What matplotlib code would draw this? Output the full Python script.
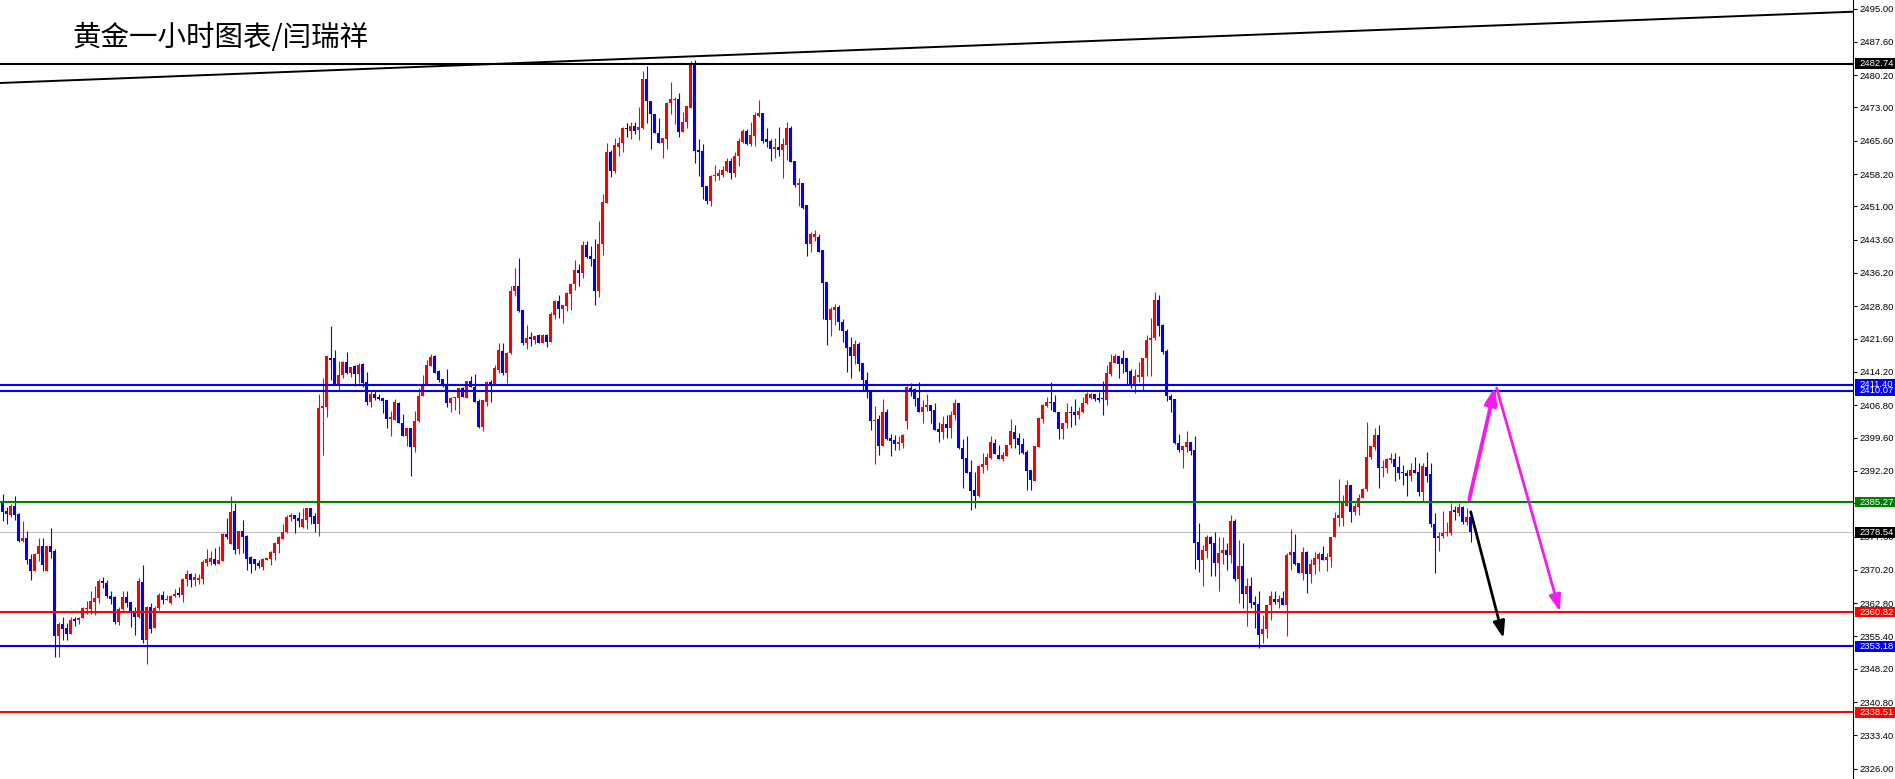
import matplotlib
matplotlib.use('Agg')
import matplotlib.pyplot as plt
import matplotlib.transforms as mtransforms
from matplotlib.patches import Rectangle
import numpy as np

plt.rcParams['font.family'] = ['Liberation Sans', 'DejaVu Sans']

# ---------------- data (hourly gold candles) ----------------
opens = [
    2385.4, 2383.3, 2382.4, 2384.4, 2382.6, 2376.6, 2377.2, 2372.6, 2370.0, 2373.7,
    2375.4, 2370.0, 2375.5, 2374.4, 2355.4, 2358.2, 2357.3, 2356.0, 2359.1, 2359.0,
    2359.6, 2361.6, 2361.5, 2363.1, 2363.9, 2367.8, 2367.3, 2364.4, 2364.2, 2358.7,
    2361.5, 2364.1, 2363.1, 2360.7, 2359.8, 2367.6, 2354.6, 2362.0, 2357.2, 2361.7,
    2364.5, 2363.4, 2362.9, 2364.3, 2365.0, 2364.5, 2368.2, 2369.3, 2367.9, 2367.9,
    2368.2, 2371.8, 2372.0, 2372.6, 2371.6, 2372.2, 2378.2, 2376.0, 2383.3, 2374.8,
    2378.8, 2377.8, 2373.1, 2372.6, 2371.8, 2370.9, 2372.4, 2372.6, 2374.0, 2375.9,
    2377.1, 2378.7, 2381.9, 2382.5, 2381.8, 2379.8, 2381.3, 2384.0, 2382.2, 2380.5,
    2406.1, 2406.5, 2417.4, 2417.2, 2411.3, 2413.5, 2416.3, 2413.9, 2415.5, 2413.7,
    2415.9, 2411.9, 2407.6, 2409.4, 2408.7, 2408.5, 2407.9, 2403.8, 2403.5, 2407.2,
    2402.8, 2400.0, 2401.8, 2397.6, 2403.3, 2408.8, 2411.4, 2415.5, 2417.7, 2414.3,
    2412.6, 2411.1, 2407.4, 2408.4, 2408.4, 2410.7, 2408.5, 2412.2, 2410.8, 2407.7,
    2402.0, 2407.6, 2412.0, 2411.3, 2414.6, 2418.9, 2414.0, 2418.5, 2432.1, 2433.2,
    2428.0, 2420.7, 2421.8, 2421.4, 2422.4, 2420.7, 2422.4, 2420.9, 2426.9, 2430.0,
    2428.3, 2428.9, 2431.5, 2433.7, 2436.9, 2436.3, 2442.4, 2440.0, 2439.2, 2432.3,
    2442.6, 2451.7, 2463.0, 2458.9, 2464.3, 2465.2, 2468.4, 2467.8, 2468.9, 2468.0,
    2468.4, 2479.3, 2474.4, 2471.5, 2467.4, 2465.2, 2466.0, 2473.9, 2474.7, 2474.8,
    2467.6, 2469.8, 2472.8, 2482.7, 2463.5, 2463.3, 2455.6, 2452.2, 2457.7, 2457.8,
    2458.0, 2458.9, 2461.2, 2458.5, 2462.2, 2465.4, 2467.8, 2464.9, 2466.7, 2471.1,
    2471.8, 2465.9, 2465.5, 2463.8, 2464.3, 2463.5, 2464.7, 2468.4, 2461.2, 2455.8,
    2456.3, 2451.3, 2442.6, 2444.3, 2444.1, 2441.3, 2434.1, 2425.7, 2427.9, 2428.6,
    2425.4, 2423.3, 2419.7, 2417.8, 2420.4, 2416.1, 2412.4, 2410.0, 2403.3, 2403.7,
    2397.7, 2405.4, 2399.6, 2399.1, 2398.2, 2398.5, 2403.4, 2410.6, 2410.3, 2408.5,
    2405.4, 2406.3, 2406.8, 2405.7, 2401.5, 2400.9, 2402.6, 2401.7, 2404.6, 2407.3,
    2397.4, 2395.1, 2392.0, 2387.9, 2386.6, 2393.0, 2393.5, 2395.1, 2398.5, 2395.7,
    2394.8, 2395.4, 2397.9, 2400.8, 2399.6, 2398.2, 2396.5, 2392.4, 2390.0, 2397.6,
    2403.7, 2406.6, 2407.5, 2407.5, 2405.4, 2401.6, 2402.8, 2405.3, 2405.4, 2404.6,
    2405.4, 2407.2, 2408.5, 2409.3, 2408.5, 2408.3, 2407.9, 2413.7, 2416.2, 2417.7,
    2417.2, 2417.2, 2414.4, 2411.3, 2413.1, 2413.0, 2417.2, 2421.2, 2421.7, 2430.2,
    2424.6, 2418.9, 2408.8, 2408.2, 2398.5, 2396.9, 2397.6, 2398.6, 2396.8, 2376.3,
    2372.4, 2374.5, 2377.6, 2376.2, 2371.8, 2373.9, 2374.6, 2373.4, 2381.1, 2368.1,
    2371.1, 2364.8, 2366.6, 2363.1, 2362.6, 2355.9, 2357.0, 2362.4, 2363.7, 2363.0,
    2363.9, 2362.4, 2373.4, 2374.1, 2371.8, 2369.6, 2374.1, 2369.3, 2371.3, 2372.6,
    2373.7, 2372.5, 2373.0, 2377.4, 2381.8, 2381.7, 2384.4, 2389.1, 2383.1, 2384.2,
    2386.1, 2388.1, 2395.2, 2397.6, 2400.2, 2392.8, 2392.9, 2394.8, 2394.8, 2393.1,
    2391.8, 2391.8, 2391.1, 2392.4, 2392.0, 2387.6, 2393.1, 2391.5, 2380.5, 2377.2,
    2377.7, 2378.3, 2378.5, 2383.6, 2382.8, 2384.1, 2380.9, 2381.9,
]
highs = [
    2387.1, 2384.1, 2384.8, 2386.6, 2382.8, 2381.1, 2378.8, 2373.7, 2373.9, 2377.2,
    2377.2, 2375.5, 2379.6, 2374.8, 2358.7, 2359.8, 2358.3, 2359.8, 2359.8, 2359.8,
    2362.0, 2363.3, 2365.4, 2366.6, 2368.1, 2368.7, 2367.9, 2365.4, 2364.3, 2362.0,
    2365.4, 2365.4, 2363.1, 2362.0, 2368.3, 2371.3, 2362.2, 2362.8, 2362.2, 2365.0,
    2365.5, 2364.6, 2364.6, 2366.0, 2366.3, 2368.3, 2370.2, 2369.6, 2369.4, 2369.3,
    2372.4, 2374.8, 2374.4, 2375.1, 2375.4, 2378.3, 2381.7, 2386.6, 2385.1, 2378.9,
    2381.3, 2377.9, 2373.2, 2372.6, 2372.4, 2372.9, 2372.9, 2374.5, 2376.5, 2377.7,
    2380.5, 2382.5, 2382.9, 2382.5, 2383.0, 2384.0, 2384.0, 2384.0, 2382.9, 2409.4,
    2412.8, 2417.7, 2424.4, 2419.1, 2416.6, 2416.6, 2418.6, 2415.4, 2415.7, 2416.1,
    2416.1, 2414.1, 2410.2, 2410.2, 2409.4, 2408.5, 2407.9, 2405.5, 2408.2, 2407.6,
    2404.9, 2401.8, 2401.8, 2405.5, 2410.6, 2413.5, 2416.8, 2418.2, 2418.0, 2414.6,
    2412.6, 2414.8, 2408.7, 2408.7, 2410.7, 2410.8, 2412.2, 2413.4, 2413.7, 2408.1,
    2407.9, 2412.2, 2412.3, 2415.7, 2420.6, 2420.6, 2418.7, 2433.3, 2437.4, 2439.6,
    2428.0, 2424.6, 2423.0, 2422.3, 2422.6, 2422.6, 2422.6, 2427.6, 2430.3, 2431.3,
    2429.1, 2431.9, 2433.8, 2439.1, 2438.3, 2443.3, 2443.2, 2442.2, 2443.8, 2447.8,
    2453.8, 2465.2, 2463.5, 2466.1, 2466.4, 2468.6, 2469.5, 2469.8, 2469.8, 2473.2,
    2481.0, 2482.2, 2474.4, 2471.5, 2470.6, 2466.3, 2474.3, 2478.7, 2475.4, 2476.3,
    2472.1, 2473.3, 2483.4, 2483.6, 2466.0, 2464.9, 2455.6, 2458.0, 2460.2, 2459.3,
    2460.0, 2461.8, 2461.7, 2463.2, 2466.1, 2468.1, 2468.1, 2469.8, 2472.1, 2474.7,
    2471.8, 2468.4, 2465.9, 2466.3, 2468.6, 2466.1, 2469.8, 2468.9, 2461.2, 2457.4,
    2456.3, 2451.3, 2445.2, 2445.8, 2444.9, 2441.3, 2434.1, 2428.7, 2429.3, 2429.1,
    2426.0, 2423.7, 2422.0, 2421.4, 2420.9, 2416.1, 2414.1, 2410.0, 2406.6, 2404.6,
    2408.2, 2405.9, 2400.5, 2400.2, 2400.0, 2400.4, 2411.1, 2411.7, 2410.6, 2412.0,
    2408.0, 2409.3, 2406.8, 2407.2, 2403.1, 2404.4, 2404.6, 2405.6, 2408.2, 2407.4,
    2399.4, 2399.9, 2394.6, 2391.9, 2393.5, 2396.2, 2396.2, 2399.9, 2399.4, 2398.0,
    2396.5, 2397.9, 2403.7, 2402.4, 2400.6, 2399.6, 2396.8, 2392.4, 2397.7, 2404.0,
    2407.0, 2408.7, 2412.0, 2409.1, 2405.4, 2402.9, 2407.4, 2406.6, 2408.1, 2406.5,
    2408.7, 2409.8, 2409.6, 2409.3, 2409.7, 2412.2, 2415.7, 2418.2, 2418.2, 2417.7,
    2419.1, 2417.4, 2414.8, 2414.8, 2416.3, 2417.4, 2422.4, 2426.3, 2431.9, 2431.3,
    2424.9, 2419.3, 2409.3, 2408.2, 2400.4, 2397.8, 2401.1, 2398.6, 2400.0, 2380.7,
    2375.7, 2377.9, 2377.8, 2378.7, 2377.6, 2377.6, 2376.1, 2382.4, 2381.5, 2376.8,
    2376.1, 2368.3, 2368.5, 2364.4, 2365.4, 2360.2, 2362.4, 2365.4, 2365.4, 2364.6,
    2365.4, 2373.9, 2379.3, 2378.2, 2371.8, 2375.2, 2374.5, 2372.6, 2374.1, 2374.2,
    2375.4, 2374.0, 2377.6, 2383.1, 2390.4, 2386.8, 2390.2, 2389.1, 2385.1, 2387.1,
    2388.5, 2403.1, 2397.7, 2401.8, 2402.4, 2394.6, 2395.1, 2396.1, 2396.1, 2395.5,
    2393.5, 2392.5, 2393.9, 2395.2, 2393.9, 2394.0, 2396.5, 2394.0, 2382.8, 2378.7,
    2383.3, 2380.9, 2385.1, 2384.4, 2385.0, 2384.3, 2383.9, 2382.4,
]
lows = [
    2381.1, 2380.5, 2381.9, 2381.3, 2376.4, 2376.5, 2371.6, 2368.0, 2370.0, 2372.2,
    2370.0, 2370.0, 2372.9, 2350.9, 2350.9, 2354.6, 2354.6, 2356.0, 2357.8, 2358.2,
    2359.6, 2360.4, 2360.4, 2360.2, 2362.9, 2366.1, 2363.9, 2362.6, 2358.1, 2357.9,
    2361.3, 2362.0, 2357.4, 2355.7, 2359.4, 2354.0, 2349.2, 2356.1, 2357.2, 2361.3,
    2362.6, 2363.4, 2362.7, 2364.2, 2364.2, 2363.1, 2366.6, 2366.3, 2366.6, 2367.0,
    2367.1, 2371.1, 2371.3, 2371.3, 2371.5, 2372.2, 2377.0, 2376.0, 2373.7, 2373.7,
    2374.0, 2370.2, 2369.6, 2370.2, 2370.5, 2370.2, 2372.4, 2371.3, 2372.4, 2374.0,
    2377.1, 2378.3, 2381.1, 2378.3, 2379.8, 2379.4, 2379.2, 2380.4, 2378.7, 2377.8,
    2395.7, 2404.1, 2412.3, 2411.3, 2410.2, 2412.8, 2413.7, 2413.0, 2411.1, 2411.8,
    2410.8, 2406.9, 2406.5, 2407.9, 2407.9, 2405.1, 2401.7, 2399.9, 2403.5, 2402.8,
    2400.0, 2397.8, 2391.1, 2396.5, 2403.1, 2408.8, 2411.4, 2415.5, 2414.0, 2412.0,
    2410.8, 2406.3, 2405.4, 2405.7, 2404.8, 2408.7, 2408.5, 2410.8, 2407.6, 2401.7,
    2401.1, 2406.7, 2407.6, 2411.3, 2414.0, 2413.5, 2411.7, 2418.2, 2431.1, 2427.6,
    2420.2, 2419.4, 2420.0, 2420.4, 2420.7, 2420.6, 2419.8, 2420.9, 2425.9, 2426.3,
    2425.0, 2427.8, 2428.0, 2432.4, 2433.4, 2435.0, 2439.5, 2437.8, 2429.1, 2430.8,
    2440.2, 2451.7, 2457.6, 2458.5, 2462.3, 2463.0, 2466.5, 2466.0, 2467.1, 2465.8,
    2468.1, 2469.5, 2463.8, 2467.4, 2465.2, 2461.7, 2463.8, 2471.5, 2469.3, 2466.5,
    2467.6, 2468.4, 2472.8, 2460.7, 2457.8, 2452.6, 2451.5, 2451.2, 2456.7, 2456.9,
    2457.6, 2458.7, 2457.2, 2457.5, 2460.0, 2465.0, 2464.7, 2464.4, 2464.4, 2470.8,
    2465.2, 2464.3, 2461.2, 2461.7, 2462.2, 2457.4, 2461.3, 2460.9, 2455.4, 2451.2,
    2450.4, 2440.0, 2440.9, 2443.4, 2440.9, 2426.0, 2420.2, 2422.2, 2424.6, 2423.5,
    2420.9, 2414.1, 2412.8, 2416.0, 2414.5, 2410.2, 2408.3, 2401.4, 2393.7, 2395.7,
    2397.7, 2399.1, 2395.4, 2396.8, 2396.8, 2397.4, 2401.5, 2408.9, 2406.7, 2405.2,
    2402.9, 2405.6, 2402.9, 2401.4, 2398.7, 2399.4, 2399.6, 2399.6, 2403.5, 2397.0,
    2388.5, 2391.8, 2383.6, 2384.0, 2386.3, 2391.7, 2392.3, 2394.8, 2395.9, 2394.8,
    2394.4, 2395.4, 2397.4, 2397.4, 2396.0, 2395.9, 2387.9, 2387.9, 2390.0, 2397.6,
    2402.9, 2406.5, 2405.7, 2405.2, 2399.3, 2399.4, 2401.7, 2402.0, 2402.4, 2403.7,
    2405.0, 2407.1, 2408.1, 2407.7, 2407.6, 2404.6, 2406.9, 2413.3, 2416.1, 2412.8,
    2413.9, 2411.5, 2410.6, 2409.6, 2412.0, 2410.2, 2413.3, 2413.3, 2421.4, 2422.2,
    2418.2, 2407.8, 2405.4, 2398.2, 2396.5, 2392.9, 2396.5, 2395.7, 2370.4, 2369.8,
    2366.5, 2372.9, 2368.9, 2368.9, 2365.5, 2371.5, 2370.2, 2371.7, 2367.8, 2362.8,
    2361.7, 2357.7, 2361.8, 2357.2, 2352.9, 2354.0, 2355.0, 2359.1, 2362.6, 2361.8,
    2362.4, 2355.6, 2370.2, 2371.3, 2369.6, 2367.9, 2365.0, 2367.2, 2369.2, 2369.9,
    2372.4, 2370.0, 2370.8, 2377.4, 2380.0, 2380.0, 2384.4, 2380.9, 2382.4, 2382.4,
    2386.1, 2387.8, 2394.8, 2396.8, 2388.5, 2390.8, 2391.8, 2393.9, 2390.0, 2390.4,
    2389.1, 2386.7, 2389.9, 2391.8, 2386.7, 2385.6, 2389.7, 2379.8, 2369.4, 2374.5,
    2377.2, 2377.7, 2378.0, 2381.3, 2382.2, 2380.5, 2380.2, 2376.3,
]
closes = [
    2383.1, 2382.7, 2384.4, 2382.5, 2376.6, 2377.2, 2372.4, 2370.0, 2373.7, 2375.4,
    2371.3, 2375.5, 2374.2, 2355.4, 2358.2, 2357.1, 2356.0, 2359.1, 2359.0, 2359.6,
    2361.8, 2361.8, 2363.3, 2363.9, 2367.8, 2367.2, 2364.4, 2363.7, 2358.7, 2361.5,
    2364.2, 2362.9, 2360.5, 2359.8, 2367.8, 2354.6, 2362.0, 2357.1, 2361.8, 2364.6,
    2363.4, 2363.7, 2364.4, 2364.9, 2364.5, 2368.2, 2369.3, 2367.9, 2368.5, 2368.4,
    2372.0, 2372.6, 2372.9, 2371.5, 2372.4, 2378.2, 2377.6, 2383.1, 2374.6, 2378.8,
    2377.6, 2372.6, 2371.6, 2371.5, 2371.1, 2372.6, 2372.9, 2374.2, 2376.1, 2377.4,
    2378.7, 2382.0, 2382.5, 2381.4, 2381.1, 2381.4, 2384.0, 2382.0, 2380.5, 2406.1,
    2406.6, 2417.7, 2416.9, 2411.3, 2413.5, 2416.5, 2413.9, 2415.2, 2413.7, 2415.7,
    2411.8, 2407.6, 2409.4, 2408.3, 2408.2, 2407.8, 2403.8, 2404.1, 2407.6, 2402.8,
    2400.0, 2401.8, 2397.6, 2403.3, 2408.9, 2411.4, 2415.7, 2417.6, 2414.0, 2412.4,
    2411.1, 2407.4, 2408.5, 2408.6, 2410.7, 2408.7, 2412.2, 2410.8, 2407.6, 2402.0,
    2407.9, 2411.9, 2411.3, 2415.0, 2419.1, 2414.0, 2418.5, 2432.3, 2433.2, 2427.7,
    2420.7, 2421.8, 2421.7, 2422.2, 2420.7, 2422.4, 2420.9, 2427.1, 2430.0, 2428.3,
    2429.1, 2431.7, 2433.7, 2436.9, 2436.3, 2442.4, 2439.8, 2439.2, 2432.3, 2442.6,
    2451.9, 2463.0, 2458.9, 2464.7, 2465.2, 2468.4, 2468.4, 2468.9, 2467.8, 2468.6,
    2479.3, 2474.4, 2471.5, 2467.4, 2465.2, 2466.3, 2473.9, 2474.8, 2474.8, 2467.6,
    2469.8, 2473.3, 2482.7, 2463.3, 2463.2, 2455.4, 2452.2, 2457.8, 2458.0, 2458.5,
    2459.2, 2461.2, 2458.5, 2462.2, 2465.6, 2467.8, 2464.9, 2466.9, 2471.3, 2471.8,
    2465.5, 2465.4, 2463.8, 2464.3, 2463.5, 2464.9, 2468.4, 2460.9, 2455.8, 2456.1,
    2450.6, 2442.6, 2444.9, 2444.8, 2440.9, 2434.0, 2425.7, 2428.2, 2428.6, 2425.2,
    2423.2, 2419.6, 2417.8, 2420.4, 2415.9, 2412.3, 2410.0, 2403.4, 2403.6, 2397.7,
    2405.4, 2399.3, 2398.8, 2398.2, 2398.7, 2400.2, 2410.8, 2410.0, 2408.2, 2405.2,
    2406.5, 2406.8, 2405.5, 2401.4, 2400.9, 2402.6, 2401.7, 2404.6, 2407.3, 2397.2,
    2394.8, 2391.8, 2387.8, 2386.6, 2393.3, 2393.7, 2395.2, 2398.7, 2395.9, 2394.8,
    2395.7, 2397.9, 2401.1, 2399.4, 2398.0, 2396.2, 2392.2, 2390.2, 2397.7, 2403.9,
    2406.8, 2407.6, 2407.3, 2405.2, 2401.6, 2402.9, 2405.4, 2405.2, 2404.6, 2405.5,
    2407.2, 2409.4, 2409.4, 2408.1, 2407.9, 2408.1, 2414.0, 2416.5, 2417.7, 2415.9,
    2415.9, 2414.2, 2411.3, 2413.3, 2413.5, 2417.4, 2421.3, 2421.8, 2430.2, 2424.4,
    2418.7, 2408.8, 2407.9, 2398.3, 2396.9, 2397.8, 2398.7, 2396.7, 2376.2, 2372.4,
    2374.6, 2377.6, 2375.9, 2371.8, 2374.0, 2374.6, 2373.4, 2381.1, 2368.1, 2371.1,
    2364.8, 2366.6, 2362.8, 2362.4, 2355.7, 2357.1, 2362.4, 2364.4, 2363.0, 2363.7,
    2362.4, 2373.4, 2374.1, 2371.5, 2369.6, 2374.1, 2369.3, 2371.5, 2372.8, 2373.7,
    2372.4, 2373.1, 2377.6, 2381.8, 2382.3, 2385.6, 2389.1, 2383.1, 2384.4, 2386.2,
    2388.1, 2395.2, 2397.7, 2400.2, 2392.8, 2393.1, 2394.8, 2394.9, 2393.0, 2391.7,
    2391.7, 2391.1, 2392.4, 2391.8, 2387.6, 2393.3, 2391.1, 2380.4, 2377.2, 2377.7,
    2378.5, 2378.7, 2383.3, 2383.1, 2384.1, 2380.8, 2381.9, 2378.54,
]

# horizontal levels drawn on the chart
level_values = [2482.74, 2411.40, 2410.07, 2385.27, 2378.54, 2360.82, 2353.18, 2338.51]
level_line_colors = ['#000000', '#0000ff', '#0000ff', '#008000', '#c0c0c0', '#ff0000', '#0000ff', '#ff0000']
level_box_colors = ['#000000', '#0000ff', '#0000ff', '#008000', '#000000', '#ff0000', '#0000ff', '#ff0000']
level_line_widths = [1.5, 1.5, 1.5, 1.5, 0.75, 1.5, 1.5, 1.5]
level_draw_order = [0, 2, 1, 3, 4, 5, 6, 7]

# price scale
tick_values = [2495.00, 2487.60, 2480.20, 2473.00, 2465.60, 2458.20, 2451.00, 2443.60,
               2436.20, 2428.80, 2421.60, 2414.20, 2406.80, 2399.60, 2392.20, 2385.00,
               2377.60, 2370.20, 2362.80, 2355.40, 2348.20, 2340.80, 2333.40, 2326.00]
tick_labels = ['%.2f' % v for v in tick_values]

# trend line (bar index, price)
trend_x = [-0.675, 462.6]
trend_y = [2478.44, 2494.29]

# projection arrows (bar index, price)
magenta_up = [(366.65, 2385.9), (373.1, 2410.9)]
magenta_down = [(373.5, 2410.6), (389.3, 2360.9)]
black_down = [(367.0, 2383.1), (375.2, 2355.0)]

title = '黄金一小时图表/闫瑞祥'

# ---------------- figure ----------------
W, H = 1895, 779
fig = plt.figure(figsize=(W / 100, H / 100), dpi=100)
fig.patch.set_facecolor('white')
ax = fig.add_axes([0, 0, 1853 / W, 1])
ax.set_facecolor('white')

O = np.array(opens)
Hh = np.array(highs)
L = np.array(lows)
C = np.array(closes)
n = min(len(O), len(Hh), len(L), len(C))
O, Hh, L, C = O[:n], Hh[:n], L[:n], C[:n]
x = np.arange(n)

cols = np.where(C > O, '#ff0000', np.where(C < O, '#0000ff', '#000000'))
ax.vlines(x, L, Hh, colors=cols, linewidth=0.8, zorder=2)
body_lo = np.minimum(O, C)
body_h = np.abs(C - O)
min_h = 0.25
bot = np.where(body_h < min_h, body_lo - (min_h - body_h) / 2, body_lo)
hgt = np.maximum(body_h, min_h)
ax.bar(x, hgt, width=0.75, bottom=bot, color=cols, linewidth=0, zorder=3)

for k in level_draw_order:
    ax.axhline(level_values[k], color=level_line_colors[k],
               lw=level_line_widths[k], zorder=4 if k != 4 else 1.5)

ax.plot(trend_x, trend_y, color='black', lw=1.4, zorder=4, solid_capstyle='butt')

def arrow(pts, color, lw, hl, hw):
    ax.annotate('', xy=pts[1], xytext=pts[0],
                arrowprops=dict(arrowstyle='-|>,head_length=%g,head_width=%g' % (hl, hw),
                                color=color, lw=lw, shrinkA=0, shrinkB=0,
                                mutation_scale=10),
                zorder=6)

arrow(magenta_up, '#f01cf0', 2.8, 1.0, 0.35)
arrow(magenta_down, '#f01cf0', 2.0, 1.0, 0.35)
arrow(black_down, '#000000', 2.0, 1.0, 0.35)

ax.set_xlim(-0.675, 462.575)
ax.set_ylim(2323.70, 2496.89)

for s in ['top', 'left', 'bottom']:
    ax.spines[s].set_visible(False)
ax.spines['right'].set_linewidth(0.8)
ax.spines['right'].set_color('black')
ax.set_xticks([])
ax.yaxis.tick_right()
ax.set_yticks(tick_values)
ax.set_yticklabels(tick_labels)
ax.tick_params(axis='y', length=3, width=0.75, pad=2, labelsize=6.8,
               direction='out', colors='black')

blend = mtransforms.blended_transform_factory(fig.transFigure, ax.transData)
for k in level_draw_order:
    v = level_values[k]
    ax.add_patch(Rectangle((1855 / W, v - 1.15), 40 / W, 2.3, transform=blend,
                           facecolor=level_box_colors[k], edgecolor='none',
                           clip_on=False, zorder=10))
    ax.text(1859 / W, v, '%.2f' % v, transform=blend, color='white',
            fontsize=6.8, va='center', ha='left', zorder=11, clip_on=False)

ax.set_xlim(-0.675, 462.575)
ax.set_ylim(2323.70, 2496.89)

fig.text(72 / W, 1 - 38 / H, title, fontsize=20.5, family=['Noto Sans CJK SC', 'DejaVu Sans'],
         va='center', ha='left', color='black')

fig.savefig('out.png', dpi=100, facecolor='white')
